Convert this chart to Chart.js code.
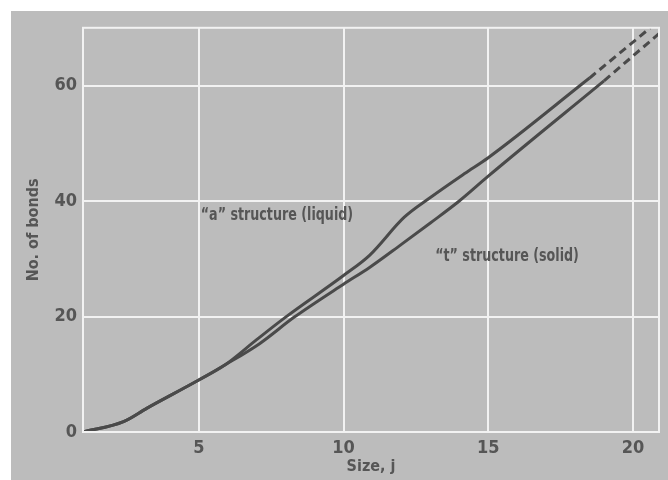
<!DOCTYPE html>
<html>
<head>
<meta charset="utf-8">
<script src="https://cdn.jsdelivr.net/npm/chart.js@4.4.1/dist/chart.umd.min.js"></script>
<style>
  html, body { margin: 0; padding: 0; background: #fff; }
  #panel { position: absolute; left: 11px; top: 11px; width: 657px; height: 469px; background: #bcbcbc; }
  #chart { display: block; }
</style>
</head>
<body>
<div id="panel"><canvas id="chart" width="657" height="469"></canvas></div>
<script>
// "a" structure (liquid), measured part and extrapolation
var aSize = [1, 2.4, 3.2, 5, 5.9, 7, 8, 10, 10.9, 12.1, 13, 14.2, 15, 18.5]
var aBonds = [0, 1.8, 4.1, 9, 11.6, 16, 19.9, 27.1, 30.6, 37.2, 40.6, 44.8, 47.5, 61.3]
var aExtSize = [18.5, 20.6]
var aExtBonds = [61.3, 70]

// "t" structure (solid)
var tSize = [1, 2.4, 3.2, 5, 5.9, 7.1, 8.3, 10, 10.9, 12, 13, 14, 15, 19]
var tBonds = [0, 1.8, 4.1, 9, 11.6, 15.3, 19.9, 25.6, 28.5, 32.5, 36.2, 40, 44.3, 60.8]
var tExtSize = [19, 20.9]
var tExtBonds = [60.8, 69]

var xTicks = [5, 10, 15, 20]
var yTicks = [0, 20, 40, 60]

var labels = [
  { text: '\u201ca\u201d structure (liquid)', x: 7.7, y: 37.4 },
  { text: '\u201ct\u201d structure (solid)', x: 15.65, y: 30.3 }
]

var FONT = "'Liberation Sans Narrow', 'DejaVu Sans Condensed', sans-serif"
var INK = '#4a4a4a'
var TEXT = '#565656'
var GRID = '#f2f2f2'

function points (xs, ys) {
  return xs.map(function (x, i) { return { x: x, y: ys[i] } })
}

function lineSet (xs, ys, dashed) {
  return {
    data: points(xs, ys),
    borderColor: INK,
    borderWidth: 3,
    borderDash: dashed ? [8, 5] : [],
    pointRadius: 0,
    fill: false,
    cubicInterpolationMode: 'monotone'
  }
}

// white frame round the plot, and the two curve labels (squeezed a bit, the print face is narrow)
var frame = {
  id: 'frame',
  afterDraw: function (chart) {
    var ctx = chart.ctx
    var a = chart.chartArea
    ctx.save()
    ctx.strokeStyle = GRID
    ctx.lineWidth = 2
    ctx.strokeRect(a.left, a.top, a.right - a.left, a.bottom - a.top)
    ctx.fillStyle = TEXT
    ctx.font = 'bold 17px ' + FONT
    ctx.textAlign = 'center'
    ctx.textBaseline = 'middle'
    labels.forEach(function (l) {
      var px = chart.scales.x.getPixelForValue(l.x)
      var py = chart.scales.y.getPixelForValue(l.y)
      ctx.save()
      ctx.translate(px, py)
      ctx.scale(0.83, 1)
      ctx.fillText(l.text, 0, 0)
      ctx.restore()
    })
    ctx.restore()
  }
}

new Chart(document.getElementById('chart'), {
  type: 'line',
  data: {
    datasets: [
      lineSet(aSize, aBonds, false),
      lineSet(aExtSize, aExtBonds, true),
      lineSet(tSize, tBonds, false),
      lineSet(tExtSize, tExtBonds, true)
    ]
  },
  options: {
    responsive: false,
    animation: false,
    layout: { padding: { left: 0, right: 9, top: 16, bottom: 0 } },
    plugins: { legend: { display: false }, tooltip: { enabled: false } },
    scales: {
      x: {
        type: 'linear',
        min: 1,
        max: 20.9,
        afterBuildTicks: function (s) { s.ticks = xTicks.map(function (v) { return { value: v } }) },
        afterFit: function (s) { s.height = 48 },
        grid: { color: GRID, lineWidth: 2, drawTicks: false },
        border: { color: GRID, width: 2 },
        ticks: { color: TEXT, padding: 6, maxRotation: 0, font: { family: FONT, size: 18, weight: 'bold' } },
        title: { display: true, text: 'Size, j', color: TEXT, padding: { top: 0, bottom: 4 }, font: { family: FONT, size: 16, weight: 'bold' } }
      },
      y: {
        min: 0,
        max: 70,
        afterBuildTicks: function (s) { s.ticks = yTicks.map(function (v) { return { value: v } }) },
        afterFit: function (s) { s.width = 72 },
        grid: { color: GRID, lineWidth: 2, drawTicks: false },
        border: { color: GRID, width: 2 },
        ticks: { color: TEXT, padding: 6, font: { family: FONT, size: 18, weight: 'bold' } },
        title: { display: true, text: 'No. of bonds', color: TEXT, padding: { top: 13, bottom: 0 }, font: { family: FONT, size: 16, weight: 'bold' } }
      }
    }
  },
  plugins: [frame]
})
</script>
</body>
</html>
